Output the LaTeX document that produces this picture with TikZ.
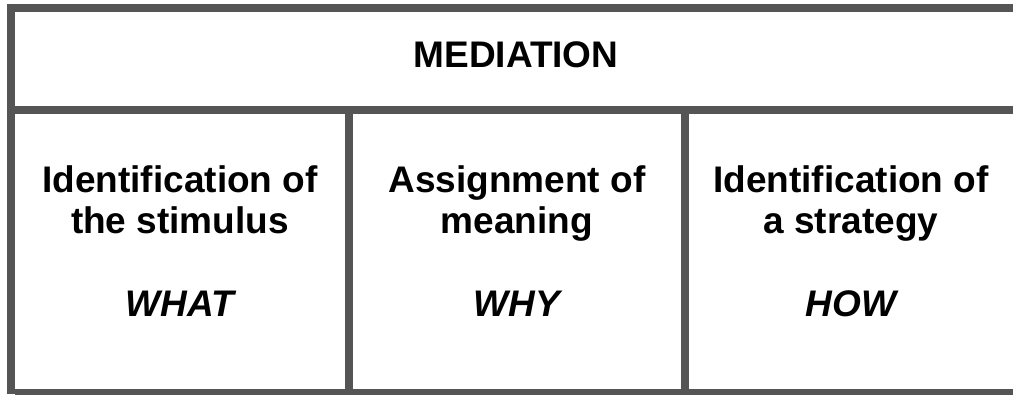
\documentclass[tikz,border=0pt]{standalone}
\usepackage{fontspec}
\setmainfont{Liberation Sans}
\definecolor{rulegray}{HTML}{555555}
\begin{document}
\begin{tikzpicture}[x=1pt,y=-1pt,
    rule/.style={draw=rulegray, line width=8pt},
    cell/.style={align=center, font=\bfseries\fontsize{37}{41}\selectfont, inner sep=0pt},
    tag/.style={font=\bfseries\itshape\fontsize{37}{41}\selectfont, inner sep=0pt}]
    \useasboundingbox (0,0) rectangle (1013,394);
    % frame and dividers
    \coordinate (tl) at (7,8);
    \coordinate (tr) at (1013,8);
    \coordinate (lt) at (11,4);
    \coordinate (lb) at (11,394);
    \coordinate (ml) at (15,110);
    \coordinate (mr) at (1013,110);
    \coordinate (bl) at (15,393);
    \coordinate (br) at (1013,393);
    \coordinate (d1t) at (349,114);
    \coordinate (d1b) at (349,389);
    \coordinate (d2t) at (685,114);
    \coordinate (d2b) at (685,389);
    \draw[rule] (tl) -- (tr);
    \draw[rule] (lt) -- (lb);
    \draw[rule] (ml) -- (mr);
    \draw[rule] (bl) -- (br);
    \draw[rule] (d1t) -- (d1b);
    \draw[rule] (d2t) -- (d2b);
    % header
    \node[cell] (med) at (516,55) {MEDIATION};
    % columns
    \node[cell, anchor=north] (stim) at (180,165) {Identification of\\the stimulus};
    \node[cell, anchor=north] (mean) at (517,165) {Assignment of\\meaning};
    \node[cell, anchor=north] (strat) at (851,165) {Identification of\\a strategy};
    \node[tag] (what) at (180,304) {WHAT};
    \node[tag] (why) at (517,304) {WHY};
    \node[tag] (how) at (851,304) {HOW};
\end{tikzpicture}
\end{document}
